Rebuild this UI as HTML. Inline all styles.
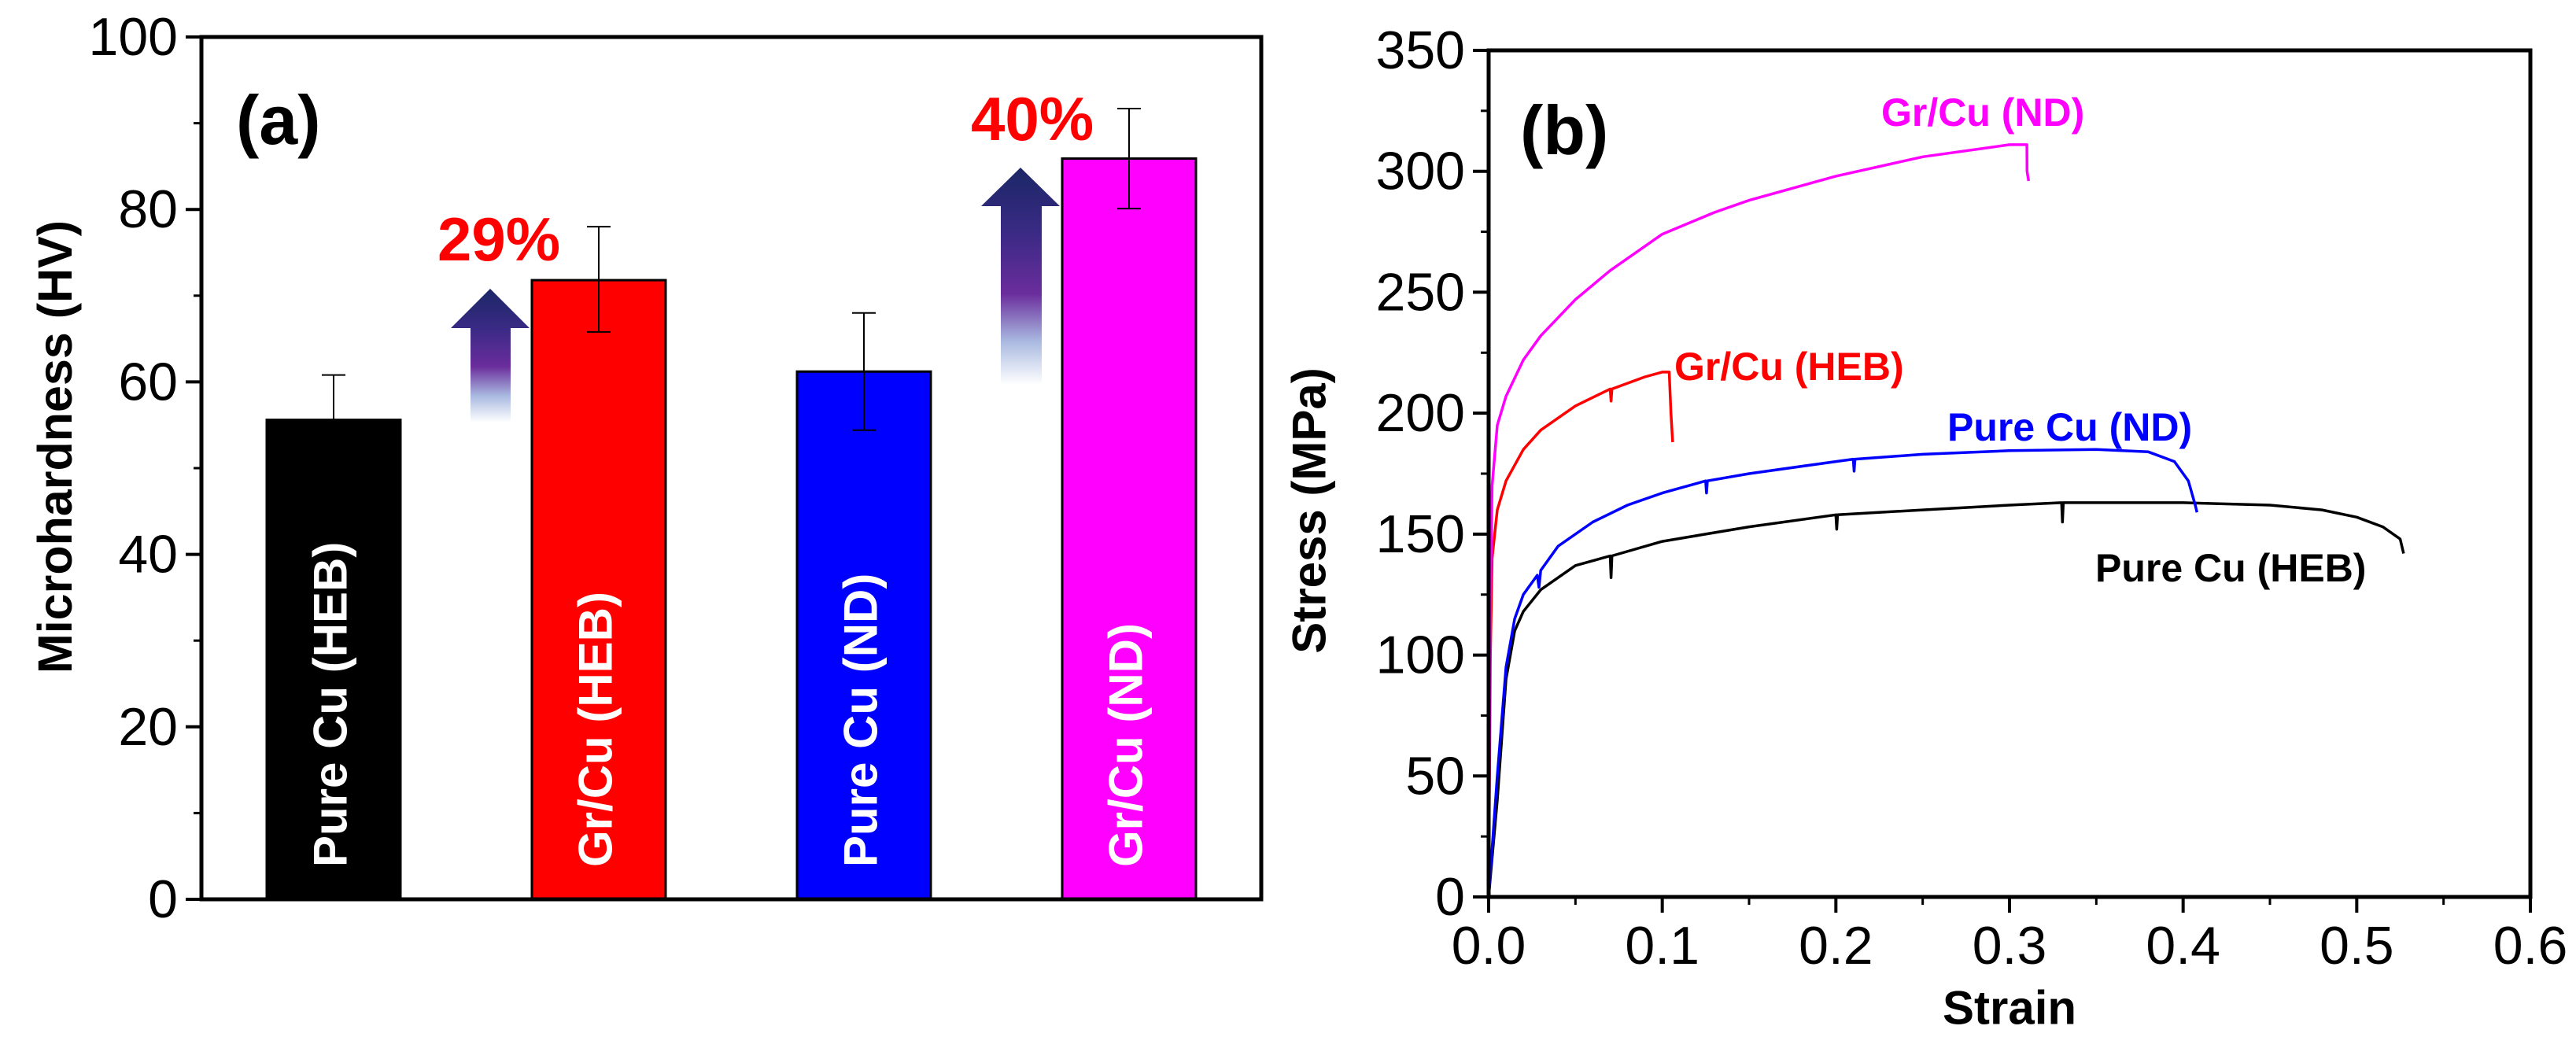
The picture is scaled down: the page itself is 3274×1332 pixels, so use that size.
<!DOCTYPE html>
<html><head><meta charset="utf-8">
<style>
html,body{margin:0;padding:0;background:#fff;}
svg{display:block;font-family:"Liberation Sans",Arial,sans-serif;}
</style></head>
<body>
<svg id="fig" width="3274" height="1332" viewBox="0 0 3274 1332" xmlns="http://www.w3.org/2000/svg">
<defs>
<linearGradient id="arrowGrad" x1="0" y1="0" x2="0" y2="1">
<stop offset="0" stop-color="#1b2766"/>
<stop offset="0.3" stop-color="#3a2a85"/>
<stop offset="0.58" stop-color="#6a2d9c"/>
<stop offset="0.8" stop-color="#a9b9e0"/>
<stop offset="1" stop-color="#ffffff"/>
</linearGradient>
</defs>
<g id="panelA"></g>
<g id="panelB"></g>
</svg>
<script>
// ---------- Panel (a) data ----------
const barCategories = ["Pure Cu (HEB)", "Gr/Cu (HEB)", "Pure Cu (ND)", "Gr/Cu (ND)"];
const barValues = [55.6, 71.8, 61.2, 85.9];
const barErrHigh = [60.8, 78.0, 68.0, 91.7];
const barErrLow = [50.4, 65.8, 54.4, 80.1];
const barColors = ["#000000", "#ff0000", "#0000ff", "#ff00ff"];
const aTicks = [0, 20, 40, 60, 80, 100];
const aMinorTicks = [10, 30, 50, 70, 90];
const increaseLabels = ["29%", "40%"];

// ---------- Panel (b) data ----------
const xTicksB = [0.0, 0.1, 0.2, 0.3, 0.4, 0.5, 0.6];
const xTickLabelsB = ["0.0", "0.1", "0.2", "0.3", "0.4", "0.5", "0.6"];
const xMinorB = [0.05, 0.15, 0.25, 0.35, 0.45, 0.55];
const yTicksB = [0, 50, 100, 150, 200, 250, 300, 350];
const yMinorB = [25, 75, 125, 175, 225, 275, 325];
const pureHEBStrain = [0,0.005,0.01,0.015,0.02,0.03,0.05,0.07,0.0705,0.071,0.1,0.15,0.2,0.2005,0.201,0.25,0.3,0.33,0.3305,0.331,0.35,0.4,0.45,0.48,0.5,0.515,0.525,0.527];
const pureHEBStress = [0,40,90,110,118,127,137,141,132,141,147,153,158,152,158,160,162,163,155,163,163,163,162,160,157,153,148,142];
const pureNDStrain = [0,0.005,0.01,0.015,0.02,0.028,0.029,0.03,0.04,0.06,0.08,0.1,0.125,0.1255,0.126,0.15,0.2,0.21,0.2105,0.211,0.25,0.3,0.35,0.38,0.395,0.403,0.407,0.408];
const pureNDStress = [0,50,95,115,125,133,128,135,145,155,162,167,172,167,172,175,180,181,176,181,183,184.5,185,184,180,172,162,159];
const grHEBStrain = [0,0.001,0.002,0.005,0.01,0.02,0.03,0.05,0.07,0.0705,0.071,0.09,0.1,0.104,0.105,0.106];
const grHEBStress = [0,100,140,160,172,185,193,203,210,205,210,215,217,217,200,188];
const grNDStrain = [0,0.001,0.002,0.005,0.01,0.02,0.03,0.05,0.07,0.1,0.13,0.15,0.2,0.25,0.3,0.31,0.3101,0.311];
const grNDStress = [0,120,170,195,207,222,232,247,259,274,283,288,298,306,311,311,300,296];
const curveColorsB = ["#000000", "#0000ff", "#ff0000", "#ff00ff"];
const curveNamesB = ["Pure Cu (HEB)", "Pure Cu (ND)", "Gr/Cu (HEB)", "Gr/Cu (ND)"];

const NS = "http://www.w3.org/2000/svg";
function mk(parent, tag, attrs, text) {
  const e = document.createElementNS(NS, tag);
  for (const k in attrs) e.setAttribute(k, attrs[k]);
  if (text !== undefined) e.textContent = text;
  parent.appendChild(e);
  return e;
}

// ---------- Panel (a) ----------
const A = document.getElementById("panelA");
const aL = 256, aR = 1603, aT = 47, aB = 1143;
const ay = v => aB - (v / 100) * (aB - aT);
const barCenters = [424, 761, 1098, 1435];
const barW = 170;

// arrows
const arrows = [[573, 673, 598, 649, 367, 417, 537], [1247, 1347, 1272, 1324, 213, 262, 489]];
arrows.forEach((a, i) => {
  const p = mk(A, "polygon", {points: `${(a[0]+a[1])/2},${a[4]} ${a[1]},${a[5]} ${a[3]},${a[5]} ${a[3]},${a[6]} ${a[2]},${a[6]} ${a[2]},${a[5]} ${a[0]},${a[5]}`, fill: "url(#arrowGrad)"});
  
  
});

barValues.forEach((v, i) => {
  const x = barCenters[i] - barW / 2;
  const r = mk(A, "rect", {x: x, y: ay(v), width: barW, height: aB - ay(v), fill: barColors[i], stroke: "#000", "stroke-width": 3});
  
  
  const cx = barCenters[i];
  const eb = mk(A, "path", {d: `M${cx},${ay(barErrLow[i])}V${ay(barErrHigh[i])}M${cx-15},${ay(barErrHigh[i])}H${cx+15}M${cx-15},${ay(barErrLow[i])}H${cx+15}`, stroke: i === 0 ? "#000" : "#000", "stroke-width": 2, fill: "none"});
  
  
  const t = mk(A, "text", {x: 0, y: 0, transform: `translate(${cx - 4},1102) rotate(-90)`, fill: "#fff", "font-weight": "bold", "font-size": 60, "dominant-baseline": "central"}, barCategories[i]);
  
  
});

// axes frame
const fa = mk(A, "rect", {x: aL, y: aT, width: aR - aL, height: aB - aT, fill: "none", stroke: "#000", "stroke-width": 5});


aTicks.forEach(v => {
  const l = mk(A, "line", {x1: aL - 20, x2: aL, y1: ay(v), y2: ay(v), stroke: "#000", "stroke-width": 4});
  
  
  const t = mk(A, "text", {x: 226, y: ay(v), "text-anchor": "end", "dominant-baseline": "central", "font-size": 68}, String(v));
  
  
});
aMinorTicks.forEach(v => {
  const l = mk(A, "line", {x1: aL - 10, x2: aL, y1: ay(v), y2: ay(v), stroke: "#000", "stroke-width": 3});
  
  
});
let t;
t = mk(A, "text", {x: 0, y: 0, transform: "translate(70,568) rotate(-90)", "text-anchor": "middle", "dominant-baseline": "central", "font-weight": "bold", "font-size": 61}, "Microhardness (HV)");


t = mk(A, "text", {x: 300, y: 183, "font-weight": "bold", "font-size": 88}, "(a)");


t = mk(A, "text", {x: 634, y: 331, "text-anchor": "middle", "font-weight": "bold", "font-size": 78, fill: "#ff0000"}, increaseLabels[0]);


t = mk(A, "text", {x: 1312, y: 178, "text-anchor": "middle", "font-weight": "bold", "font-size": 78, fill: "#ff0000"}, increaseLabels[1]);



// ---------- Panel (b) ----------
const B = document.getElementById("panelB");
const bL = 1892, bR = 3216, bT = 64, bB = 1140;
const bx = v => bL + (v / 0.6) * (bR - bL);
const by = v => bB - (v / 350) * (bB - bT);
const series = [[pureHEBStrain, pureHEBStress], [pureNDStrain, pureNDStress], [grHEBStrain, grHEBStress], [grNDStrain, grNDStress]];
series.forEach((s, i) => {
  const d = s[0].map((x, j) => (j ? "L" : "M") + bx(x).toFixed(1) + "," + by(s[1][j]).toFixed(1)).join("");
  const p = mk(B, "path", {d: d, fill: "none", stroke: curveColorsB[i], "stroke-width": 3.5, "stroke-linejoin": "round"});
  
  
});
const fb = mk(B, "rect", {x: bL, y: bT, width: bR - bL, height: bB - bT, fill: "none", stroke: "#000", "stroke-width": 5});


yTicksB.forEach(v => {
  const l = mk(B, "line", {x1: bL - 20, x2: bL, y1: by(v), y2: by(v), stroke: "#000", "stroke-width": 4});
  
  
  const t = mk(B, "text", {x: 1862, y: by(v), "text-anchor": "end", "dominant-baseline": "central", "font-size": 68}, String(v));
  
  
});
yMinorB.forEach(v => {
  const l = mk(B, "line", {x1: bL - 10, x2: bL, y1: by(v), y2: by(v), stroke: "#000", "stroke-width": 3});
  
  
});
xTicksB.forEach((v, i) => {
  const l = mk(B, "line", {x1: bx(v), x2: bx(v), y1: bB, y2: bB + 20, stroke: "#000", "stroke-width": 4});
  
  
  const t = mk(B, "text", {x: bx(v), y: 1202, "text-anchor": "middle", "dominant-baseline": "central", "font-size": 68}, xTickLabelsB[i]);
  
  
});
xMinorB.forEach(v => {
  const l = mk(B, "line", {x1: bx(v), x2: bx(v), y1: bB, y2: bB + 10, stroke: "#000", "stroke-width": 3});
  
  
});
t = mk(B, "text", {x: 0, y: 0, transform: "translate(1664,649) rotate(-90)", "text-anchor": "middle", "dominant-baseline": "central", "font-weight": "bold", "font-size": 60}, "Stress (MPa)");


t = mk(B, "text", {x: 2554, y: 1281, "text-anchor": "middle", "dominant-baseline": "central", "font-weight": "bold", "font-size": 60}, "Strain");


t = mk(B, "text", {x: 1932, y: 196, "font-weight": "bold", "font-size": 88}, "(b)");


const curveLabelPos = [[2663, 739], [2475, 560], [2128, 483], [2391, 160]];
curveNamesB.forEach((n, i) => {
  const t = mk(B, "text", {x: curveLabelPos[i][0], y: curveLabelPos[i][1], "font-weight": "bold", "font-size": 50, fill: curveColorsB[i]}, n);
  
  
});
</script>
</body></html>
